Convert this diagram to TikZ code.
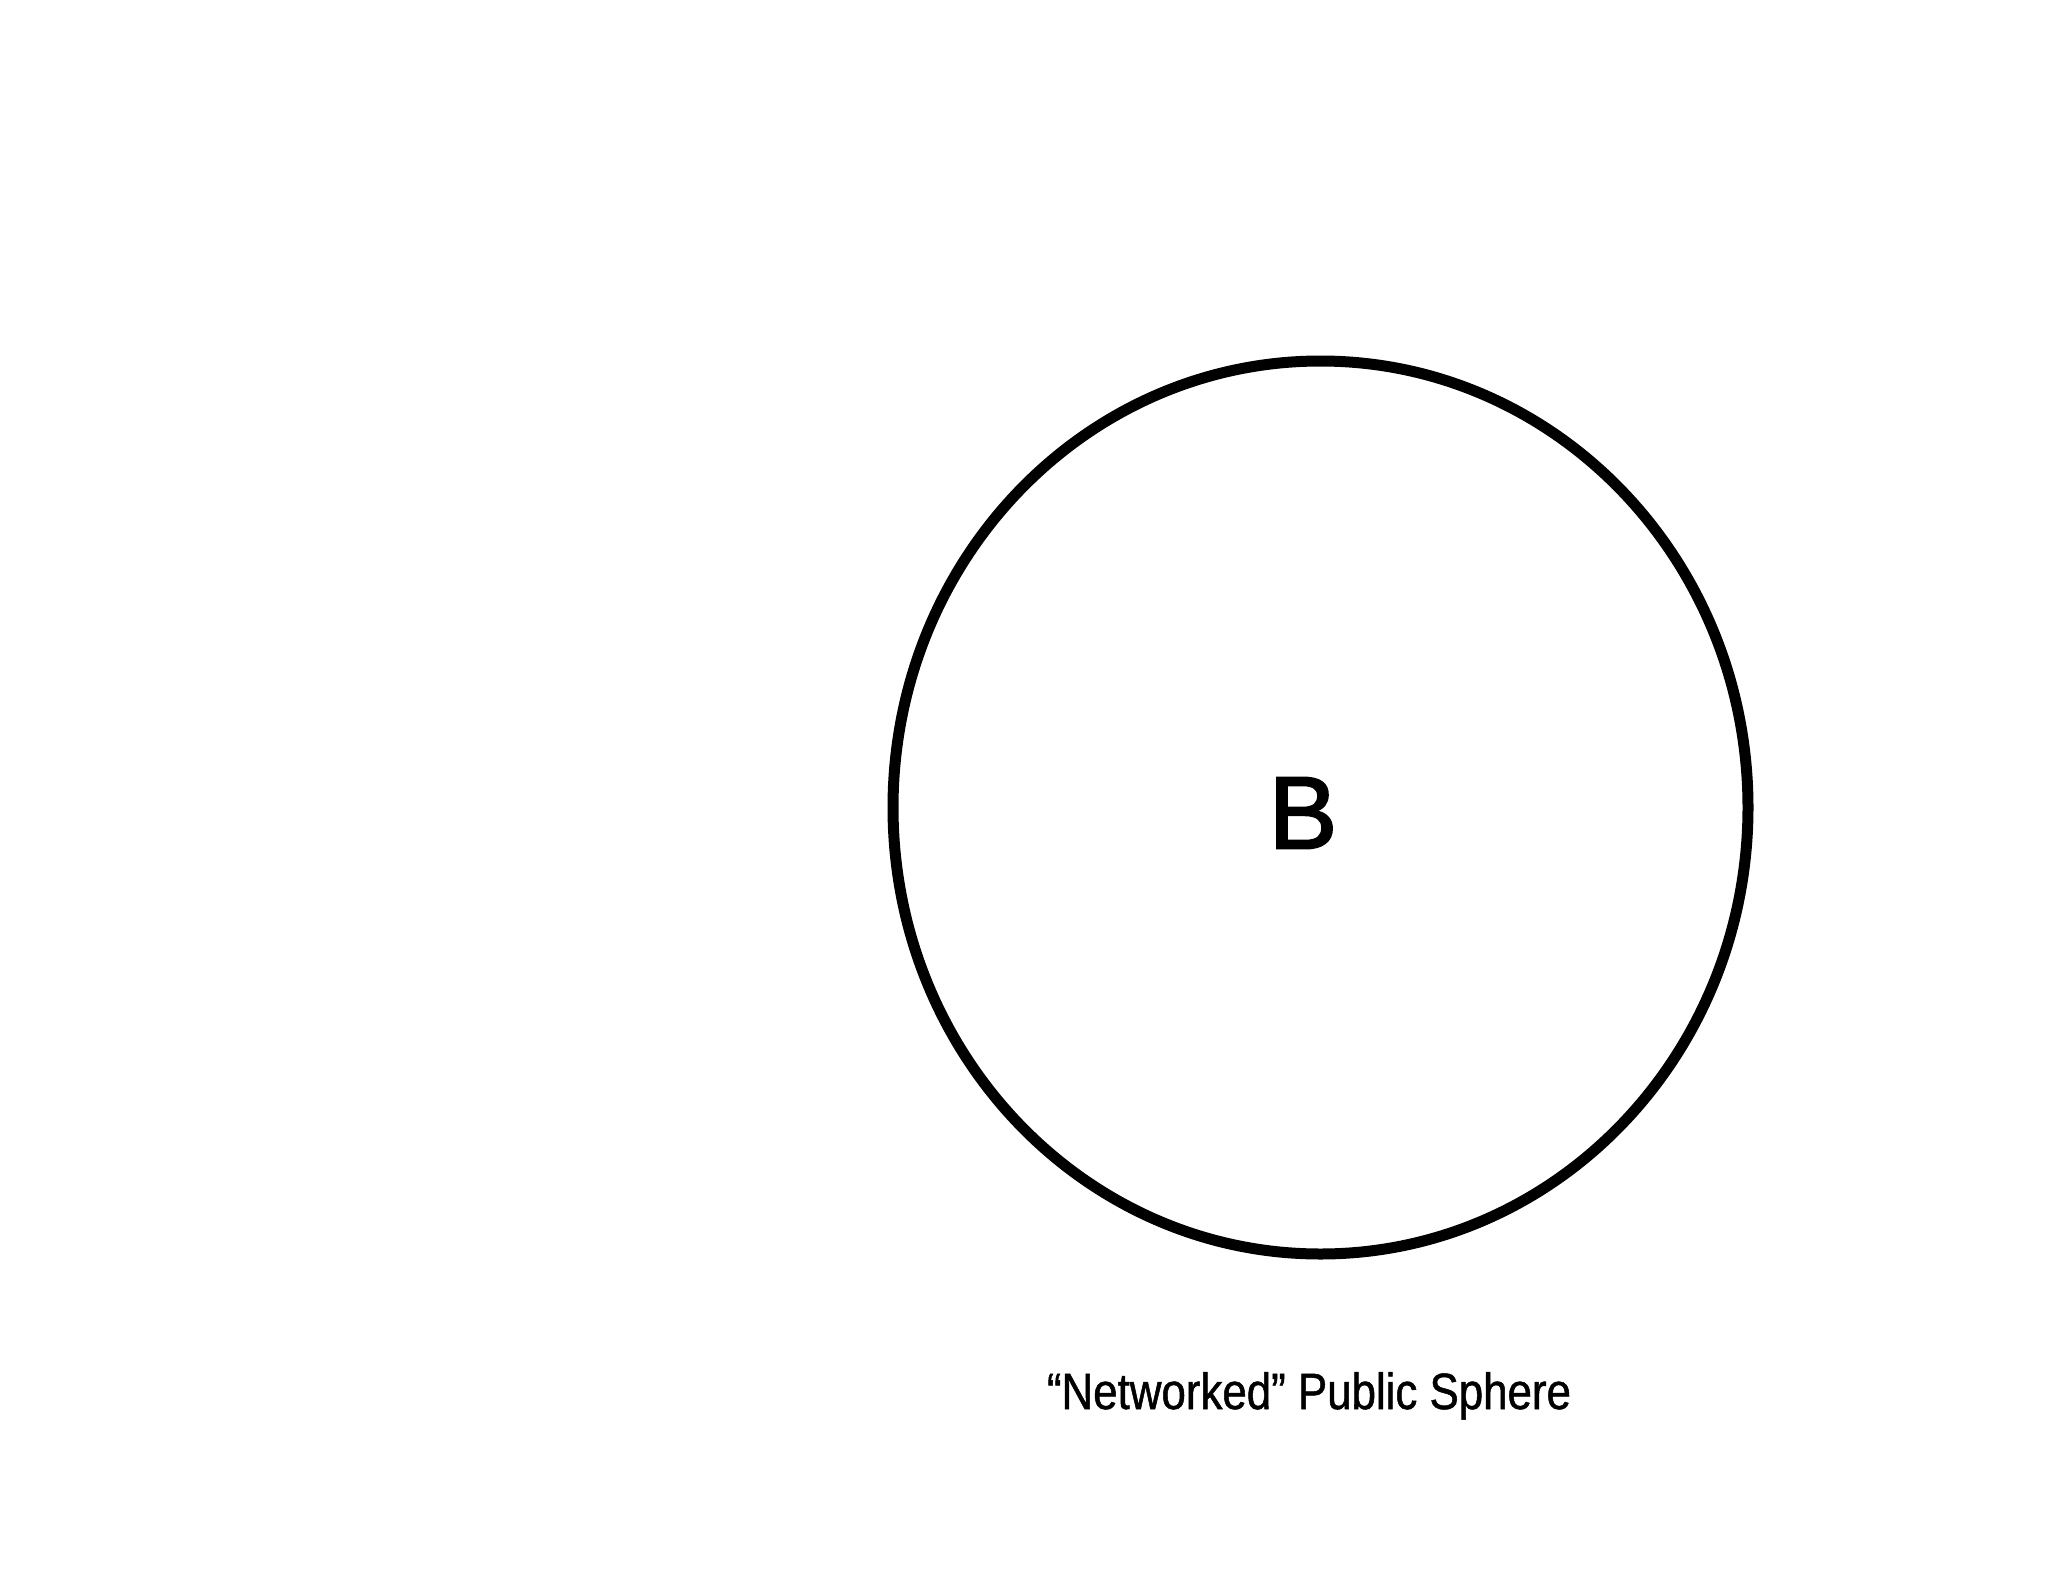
\documentclass[tikz,border=0pt]{standalone}
\usepackage{fontspec}
\setmainfont{Liberation Sans}
\newfontfamily\narrowfont[FakeStretch=0.86,FakeBold=1]{Liberation Sans}
\newfontfamily\letterfont[FakeBold=2]{Liberation Sans}
\begin{document}
\begin{tikzpicture}[x=1pt,y=-1pt,
  sphere/.style={draw=black,line width=11pt},
  letter/.style={font=\letterfont\fontsize{103}{103}\selectfont,inner sep=0pt},
  caption/.style={font=\narrowfont\fontsize{51}{51}\selectfont,inner sep=0pt,anchor=base}]
\useasboundingbox (0,0) rectangle (2048,1582);
\draw[sphere] (1320.5,807.5) ellipse [x radius=427.5, y radius=446.5];
\coordinate (c) at (1320.5,807.5);
\node[letter] (b) at (1303,813) {B};
\node[caption] (lbl) at (1309,1409) {“Networked” Public Sphere};
\end{tikzpicture}
\end{document}
